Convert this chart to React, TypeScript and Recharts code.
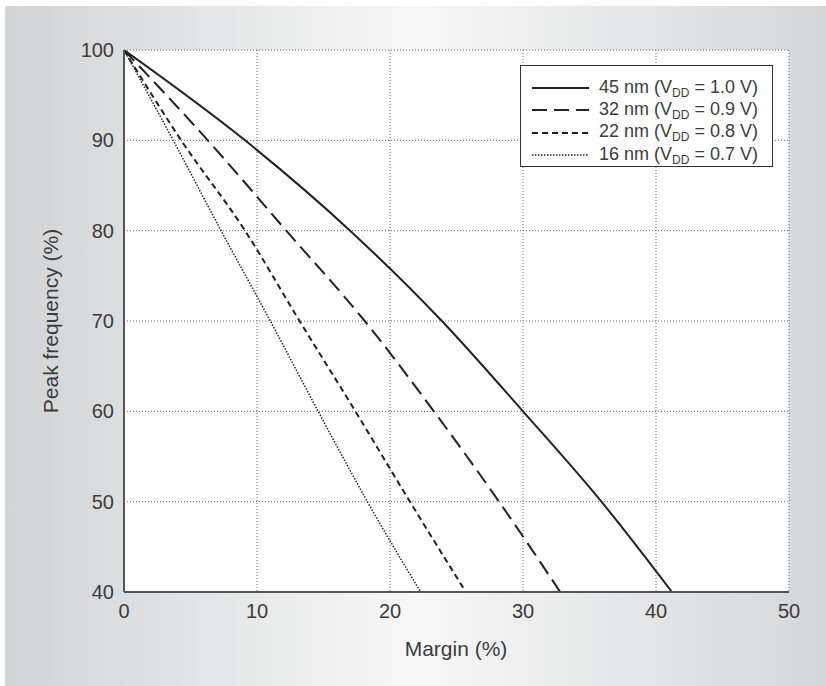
import React from 'react';
import { LineChart, Line, XAxis, YAxis, CartesianGrid } from 'recharts';

const FREQ_LEVELS = [100, 90, 80, 70, 60, 50, 40];

// margin (%) needed for each frequency level, per node
const MARGIN_45NM = [0, 9.1, 17.0, 23.9, 30.0, 35.9, 41.2];
const MARGIN_32NM = [0, 6.3, 12.2, 18.1, 23.3, 28.2, 32.8];
const MARGIN_22NM = [0, 4.3, 9.1, 13.2, 17.4, 21.5, 25.7];
const MARGIN_16NM = [0, 3.7, 7.3, 11.0, 14.6, 18.3, 22.3];

const X_TICKS = [0, 10, 20, 30, 40, 50];
const Y_TICKS = [40, 50, 60, 70, 80, 90, 100];

const SERIES = [
  { key: '45nm', node: '45 nm', vdd: '1.0 V', margins: MARGIN_45NM, dash: undefined, width: 2 },
  { key: '32nm', node: '32 nm', vdd: '0.9 V', margins: MARGIN_32NM, dash: '15 7', width: 2 },
  { key: '22nm', node: '22 nm', vdd: '0.8 V', margins: MARGIN_22NM, dash: '6 4', width: 2 },
  { key: '16nm', node: '16 nm', vdd: '0.7 V', margins: MARGIN_16NM, dash: '1.5 1.5', width: 1.5 },
];

const FONT = '"Liberation Sans", Arial, sans-serif';
const INK = '#3c3c3c';

const toPoints = (margins: number[]) =>
  FREQ_LEVELS.map((f, i) => ({ margin: margins[i], freq: f }));

function LegendBox() {
  return (
    <div
      style={{
        position: 'absolute',
        left: 520,
        top: 65,
        boxSizing: 'border-box',
        width: 253,
        height: 102,
        background: '#fff',
        border: '1.5px solid #333',
        padding: '11px 0 0 11px',
        fontFamily: FONT,
        fontSize: 18,
        color: INK,
      }}
    >
      {SERIES.map((s) => (
        <div key={s.key} style={{ display: 'flex', alignItems: 'center', height: 22.3, whiteSpace: 'nowrap' }}>
          <svg width={57} height={10} style={{ marginRight: 10 }}>
            <line x1={0} y1={5} x2={57} y2={5} stroke="#222" strokeWidth={s.width} strokeDasharray={s.dash} />
          </svg>
          <span>
            {s.node} (V<sub style={{ fontSize: 12, verticalAlign: -4 }}>DD</sub> = {s.vdd})
          </span>
        </div>
      ))}
    </div>
  );
}

export default function App() {
  return (
    <div style={{ position: 'absolute', left: 0, top: 0, width: 826, height: 686, background: '#fff' }}>
      <div
        style={{
          position: 'absolute',
          left: 5,
          top: 6,
          width: 821,
          height: 680,
          background: 'linear-gradient(to right, #d2d3d5 0%, #f7f7f7 50%, #d5d6d8 100%)',
        }}
      />
      <div style={{ position: 'absolute', left: 0, top: 0 }}>
        <LineChart width={826} height={686} margin={{ top: 50, right: 37, left: 0, bottom: 0 }}>
          <CartesianGrid stroke="#666" strokeDasharray="1 2" fill="#fff" />
          <XAxis
            type="number"
            dataKey="margin"
            domain={[0, 50]}
            ticks={X_TICKS}
            height={94}
            tickLine={false}
            tickSize={0}
            tickMargin={12}
            axisLine={{ stroke: '#555', strokeWidth: 2 }}
            tick={{ fill: INK, fontSize: 20, fontFamily: FONT }}
            allowDataOverflow
            label={{
              content: () => (
                <text x={456} y={656} textAnchor="middle" fill={INK} fontSize={21} fontFamily={FONT}>
                  Margin (%)
                </text>
              ),
            }}
          />
          <YAxis
            type="number"
            dataKey="freq"
            domain={[40, 100]}
            ticks={Y_TICKS}
            width={124}
            tickLine={false}
            tickSize={0}
            tickMargin={10}
            axisLine={{ stroke: '#555', strokeWidth: 2 }}
            tick={{ fill: INK, fontSize: 20, fontFamily: FONT }}
            allowDataOverflow
            label={{
              content: () => (
                <text
                  x={58}
                  y={321}
                  transform="rotate(-90 58 321)"
                  textAnchor="middle"
                  fill={INK}
                  fontSize={21}
                  fontFamily={FONT}
                >
                  Peak frequency (%)
                </text>
              ),
            }}
          />
          {SERIES.map((s) => (
            <Line
              key={s.key}
              data={toPoints(s.margins)}
              dataKey="freq"
              type="monotone"
              stroke="#222"
              strokeWidth={s.width}
              strokeDasharray={s.dash}
              dot={false}
              activeDot={false}
              isAnimationActive={false}
            />
          ))}
        </LineChart>
      </div>
      <LegendBox />
    </div>
  );
}
